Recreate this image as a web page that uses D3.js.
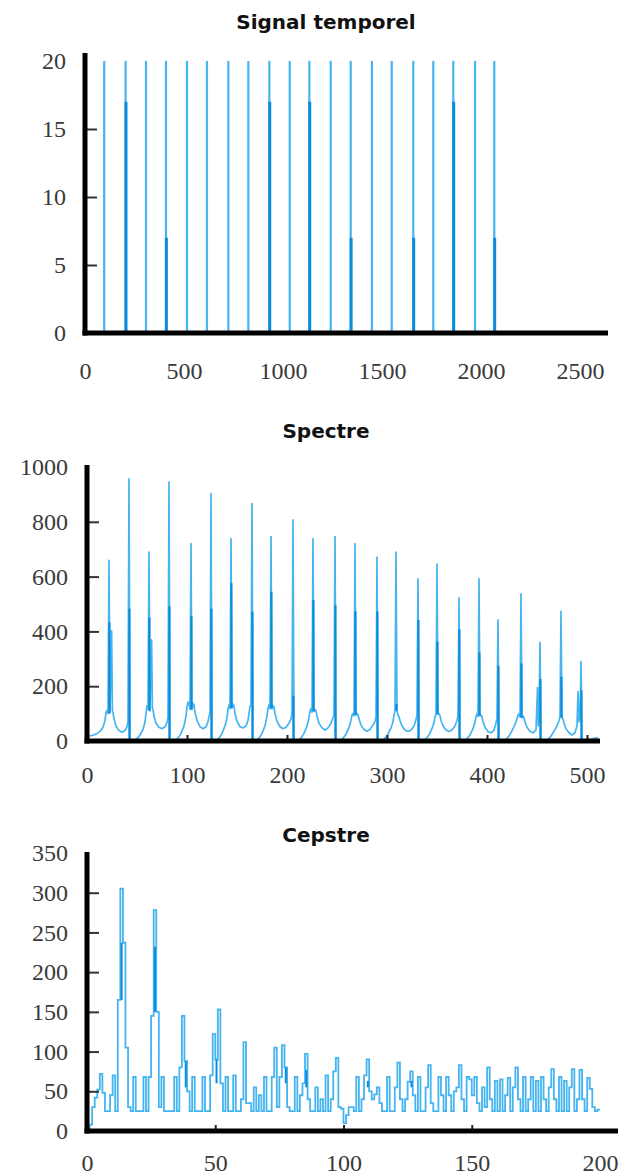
<!DOCTYPE html>
<meta charset="utf-8">
<script src="https://d3js.org/d3.v7.min.js"></script>
<style>
  body { margin: 0; background: #fff; }
  .titre { font-family: "DejaVu Sans", sans-serif; font-weight: bold; font-size: 20px; fill: #111; }
</style>
<div id="my_dataviz"></div>
<script>

// ---- Signal temporel : positions et amplitudes des impulsions ----
const pulseT = [97, 205, 308, 409, 515, 616, 724, 825, 931, 1034, 1133, 1241, 1342, 1449, 1549, 1658, 1759, 1860, 1970, 2067];
const pulseAmp = [20, 20, 20, 20, 20, 20, 20, 20, 20, 20, 20, 20, 20, 20, 20, 20, 20, 20, 20, 20];
const pulseInner = [0, 17, 0, 7, 0, 0, 0, 0, 17, 0, 17, 0, 7, 0, 0, 7, 0, 17, 0, 7];
const signalXTicks = [0, 500, 1000, 1500, 2000, 2500];
const signalYTicks = [0, 5, 10, 15, 20];

// ---- Spectre : [bin, amplitude] ----
const spectre = [
  [0,990],[1,18],[5,20],[9,25],[13,35],[16,50],[18,75],[19,105],[20,112],[21,100],
  [22,659],[23,105],[24.6,402],[25.4,110],[26,105],[27,80],[29,55],[32,38],[35,32],[38,38],[40,52],[41,70],
  [42,957],[43,2],[47,2],[50,8],[53,22],[56,42],[58,70],[59,100],[60,128],[61,118],
  [62,689],[63,110],[64.6,369],[65.4,118],[66,115],[67,90],[69,65],[72,50],[75,45],[78,52],[80,68],[81,85],
  [82,945],[83,2],[88,2],[91,10],[94,28],[97,55],[99,90],[100,125],[101,142],[102,140],[103,115],
  [104,720],[105,115],[106,138],[107,132],[108,105],[110,75],[113,52],[116,45],[119,52],[121,70],[122,90],[123,100],
  [124,903],[125,2],[129,2],[132,10],[135,28],[138,55],[140,85],[141,115],[142,132],[143,118],
  [144,738],[145,120],[146,135],[147,128],[148,100],[150,72],[153,52],[156,48],[159,55],[161,75],[162,100],[163,128],[164,130],
  [165,866],[166,2],[169,2],[172,10],[175,28],[178,55],[180,90],[181,120],[182,132],[183,118],
  [184,746],[185,118],[186,130],[187,125],[188,100],[190,72],[193,52],[196,45],[199,50],[202,65],[204,80],[205,100],
  [206,807],[207,2],[211,2],[214,10],[217,28],[220,55],[222,85],[223,110],[224,118],[225,105],
  [226,738],[227,108],[228,115],[229,110],[230,90],[232,65],[235,48],[238,40],[241,48],[244,65],[246,85],[247,95],
  [248,746],[249,2],[253,2],[256,10],[259,25],[262,50],[264,75],[265,95],[266,100],[267,92],
  [268,720],[269,95],[270,100],[271,95],[272,80],[274,58],[277,42],[280,36],[283,42],[286,58],[288,72],[289,88],
  [290,671],[291,2],[295,2],[298,10],[301,25],[304,48],[306,70],[307,95],[308,110],
  [309,689],[310,110],[311,95],[312,88],[313,75],[315,55],[318,40],[321,35],[324,40],[327,55],[329,78],[330,95],
  [331,592],[332,2],[336,2],[339,8],[342,22],[345,45],[347,68],[348,88],[349,98],
  [350,646],[351,98],[352,100],[353,92],[354,75],[356,55],[359,40],[362,35],[365,40],[368,55],[370,75],[371,92],
  [372,522],[373,2],[377,2],[380,8],[383,22],[386,45],[388,68],[389,88],[390,100],[391,90],
  [392,592],[393,92],[394,95],[395,88],[396,70],[398,50],[401,35],[404,30],[407,40],[409,65],[410,85],
  [411,442],[412,2],[416,2],[419,6],[422,18],[425,38],[428,60],[430,80],[431,95],[432,100],[433,88],
  [434,537],[435,85],[436,92],[437,85],[438,68],[440,50],[443,35],[446,30],[449,40],[450.5,195],[451.3,55],[452,70],
  [453,360],[454,2],[458,2],[461,6],[464,18],[467,35],[470,55],[472,75],[473,90],
  [474,473],[475,85],[476,80],[477,65],[479,45],[482,30],[485,22],[488,30],[490,55],[491,180],[492,70],[493,80],
  [494,290],[495,2],[499,2],[503,6],[507,10],[511,12]
];
// traits plus foncés au pied des raies
const peakBin = [22, 42, 62, 82, 104, 124, 144, 165, 184, 206, 226, 248, 268, 290, 309, 331, 350, 372, 392, 411, 434, 453, 474, 494];
const peakInner = [433, 483, 451, 491, 457, 483, 576, 472, 545, 165, 514, 497, 473, 473, 135, 442, 363, 408, 323, 274, 283, 226, 234, 185];
const peakFoot = [100, 0, 110, 0, 115, 0, 120, 0, 118, 0, 108, 0, 95, 0, 110, 0, 98, 0, 92, 0, 85, 0, 85, 0];
const spectreXTicks = [0, 100, 200, 300, 400, 500];
const spectreYTicks = [0, 200, 400, 600, 800, 1000];

// ---- Cepstre : une valeur par quéfrence 0..200 ----
const cepstre = [
  0, 8, 30, 42, 52, 72, 48, 25, 25, 45,
  70, 25, 165, 305, 237, 105, 30, 25, 68, 25,
  25, 25, 68, 25, 68, 145, 278, 150, 30, 68,
  25, 25, 25, 25, 68, 25, 80, 145, 88, 50,
  25, 68, 25, 25, 25, 68, 25, 25, 70, 122,
  90, 153, 60, 25, 68, 25, 25, 70, 25, 25,
  40, 112, 35, 35, 25, 55, 25, 45, 25, 68,
  25, 25, 68, 105, 30, 68, 108, 80, 30, 25,
  25, 68, 25, 45, 60, 97, 40, 25, 25, 55,
  25, 40, 25, 70, 25, 40, 75, 92, 30, 28,
  10, 20, 30, 30, 25, 68, 25, 40, 70, 90,
  50, 40, 46, 55, 35, 25, 25, 68, 25, 25,
  55, 86, 40, 25, 40, 62, 75, 45, 25, 68,
  25, 25, 55, 83, 35, 25, 25, 68, 45, 25,
  68, 45, 25, 50, 55, 83, 40, 25, 68, 65,
  45, 68, 35, 25, 55, 30, 80, 40, 25, 63,
  25, 65, 25, 45, 67, 25, 55, 80, 40, 25,
  68, 25, 40, 68, 25, 63, 25, 68, 40, 25,
  55, 78, 40, 25, 68, 25, 63, 25, 55, 78,
  25, 40, 77, 40, 25, 67, 53, 30, 25, 27,
  27
];
const cepDarkQ = [13.5, 26.5, 38.5, 50.5, 77.5, 85.5, 109.5, 126.5];
const cepDarkLo = [165, 150, 55, 60, 60, 55, 55, 55];
const cepDarkHi = [237, 232, 88, 90, 80, 77, 63, 63];
const cepstreXTicks = [0, 50, 100, 150, 200];
const cepstreYTicks = [0, 50, 100, 150, 200, 250, 300, 350];

const light = "#45b4ef", dark = "#0b8ddc";

const svg = d3.select("#my_dataviz")
  .append("svg")
    .attr("width", 618)
    .attr("height", 1176);

// draws title, tick labels, inner ticks and the thick axis lines
function panel(o) {
  const g = svg.append("g");
  const x = d3.scaleLinear().domain(o.xDomain).range(o.xRange);
  const y = d3.scaleLinear().domain(o.yDomain).range(o.yRange);
  const data = g.append("g");

  g.append("text")
    .attr("class", "titre")
    .attr("x", 326)
    .attr("y", o.titleY)
    .attr("text-anchor", "middle")
    .text(o.title);

  const top = o.yDomain[1];
  const ya = g.append("g")
    .attr("transform", `translate(${x(0)},0)`)
    .call(d3.axisLeft(y).tickValues(o.yTicks).tickSizeInner(-12).tickSizeOuter(0).tickPadding(19).tickFormat(d3.format("d")));
  ya.select(".domain").remove();
  ya.selectAll(".tick line")
    .attr("stroke", "#333").attr("stroke-width", 2)
    .style("display", d => (d === 0 || d === top) ? "none" : null);

  const xa = g.append("g")
    .attr("transform", `translate(0,${y(0)})`)
    .call(d3.axisBottom(x).tickValues(o.xTicks).tickSizeInner(-o.xTickLen).tickSizeOuter(0).tickPadding(o.xPad).tickFormat(d3.format("d")));
  xa.select(".domain").remove();
  xa.selectAll(".tick line")
    .attr("stroke", "#222").attr("stroke-width", 2)
    .style("display", d => o.xTickMarks.includes(d) ? null : "none");

  g.selectAll(".tick text")
    .style("font-family", "'Liberation Serif', 'DejaVu Serif', serif")
    .style("font-size", "24px")
    .style("fill", "#3a3a3a");

  // thick axis lines
  g.append("line")
    .attr("x1", x(0)).attr("x2", x(0))
    .attr("y1", o.axisTop).attr("y2", y(0) + 2.5)
    .attr("stroke", "#000").attr("stroke-width", 5);
  g.append("line")
    .attr("x1", x(0) - 2.5).attr("x2", o.xEnd)
    .attr("y1", y(0)).attr("y2", y(0))
    .attr("stroke", "#000").attr("stroke-width", 5);

  return { data, x, y };
}

// ---------- Signal temporel ----------
const p1 = panel({
  title: "Signal temporel", titleY: 29,
  xDomain: [0, 2500], xRange: [85, 580], yDomain: [0, 20], yRange: [333, 61],
  xTicks: signalXTicks, yTicks: signalYTicks, xTickMarks: [], xTickLen: 0,
  xPad: 29, axisTop: 53, xEnd: 608
});
p1.data.selectAll(".pulse")
  .data(pulseT)
  .join("line")
    .attr("x1", d => p1.x(d)).attr("x2", d => p1.x(d))
    .attr("y1", p1.y(0)).attr("y2", (d, i) => p1.y(pulseAmp[i]))
    .attr("stroke", light).attr("stroke-width", 2.2);
p1.data.selectAll(".pulseIn")
  .data(pulseT.filter((d, i) => pulseInner[i] > 0))
  .join("line")
    .attr("x1", d => p1.x(d) + 0.4).attr("x2", d => p1.x(d) + 0.4)
    .attr("y1", p1.y(0))
    .attr("y2", d => p1.y(pulseInner[pulseT.indexOf(d)]))
    .attr("stroke", dark).attr("stroke-width", 3);

// ---------- Spectre ----------
const p2 = panel({
  title: "Spectre", titleY: 438,
  xDomain: [0, 500], xRange: [87, 587], yDomain: [0, 1000], yRange: [741, 467],
  xTicks: spectreXTicks, yTicks: spectreYTicks, xTickMarks: [100, 200, 300, 400, 500], xTickLen: 6,
  xPad: 25, axisTop: 465, xEnd: 600
});
p2.data.append("path")
  .datum(spectre)
  .attr("fill", "none")
  .attr("stroke", light)
  .attr("stroke-width", 1.7)
  .attr("stroke-linejoin", "round")
  .attr("d", d3.line().x(d => p2.x(d[0])).y(d => p2.y(d[1])));
p2.data.selectAll(".inner")
  .data(peakBin)
  .join("line")
    .attr("x1", d => p2.x(d + 0.4)).attr("x2", d => p2.x(d + 0.4))
    .attr("y1", (d, i) => p2.y(peakFoot[i]))
    .attr("y2", (d, i) => p2.y(peakInner[i]))
    .attr("stroke", dark).attr("stroke-width", 2.2);

// ---------- Cepstre ----------
const p3 = panel({
  title: "Cepstre", titleY: 842,
  xDomain: [0, 200], xRange: [87, 600], yDomain: [0, 350], yRange: [1131, 853],
  xTicks: cepstreXTicks, yTicks: cepstreYTicks, xTickMarks: [50, 100, 150], xTickLen: 6,
  xPad: 23, axisTop: 852, xEnd: 618
});
p3.data.append("path")
  .datum(cepstre)
  .attr("fill", "none")
  .attr("stroke", light)
  .attr("stroke-width", 1.8)
  .attr("d", d3.line().curve(d3.curveStepAfter).x((d, i) => p3.x(i)).y(d => p3.y(d)));
p3.data.selectAll(".cdark")
  .data(cepDarkQ)
  .join("line")
    .attr("x1", d => p3.x(d)).attr("x2", d => p3.x(d))
    .attr("y1", (d, i) => p3.y(cepDarkLo[i]))
    .attr("y2", (d, i) => p3.y(cepDarkHi[i]))
    .attr("stroke", dark).attr("stroke-width", 2);

</script>
